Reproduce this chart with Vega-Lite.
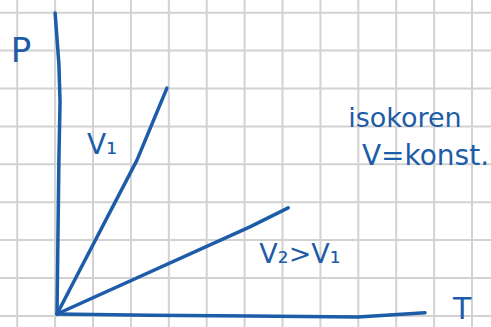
{
  "$schema": "https://vega.github.io/schema/vega-lite/v6.json",
  "width": 491,
  "height": 327,
  "autosize": "none",
  "padding": 0,
  "background": "#ffffff",
  "config": {
    "view": {"stroke": null},
    "text": {"font": "DejaVu Sans", "color": "#1d5ca8"}
  },
  "datasets": {
    "gridT": [
      {"T": -1.05}, {"T": -0.05}, {"T": 0.95}, {"T": 1.95}, {"T": 2.95}, {"T": 3.95}, {"T": 4.95},
      {"T": 5.95}, {"T": 6.95}, {"T": 7.95}, {"T": 8.95}, {"T": 9.95}, {"T": 10.95}
    ],
    "gridP": [
      {"p": -0.05}, {"p": 0.95}, {"p": 1.95}, {"p": 2.95}, {"p": 3.95}, {"p": 4.95},
      {"p": 5.95}, {"p": 6.95}, {"p": 7.95}
    ]
  },
  "encoding": {
    "x": {"field": "T", "type": "quantitative", "scale": {"domain": [-1.504, 11.451], "nice": false, "zero": false}, "axis": null},
    "y": {"field": "p", "type": "quantitative", "scale": {"domain": [-0.343, 8.285], "nice": false, "zero": false}, "axis": null}
  },
  "layer": [
    {
      "data": {"name": "gridT"},
      "mark": {"type": "rule", "color": "#d2d2d2", "strokeWidth": 2},
      "encoding": {"y": null}
    },
    {
      "data": {"name": "gridP"},
      "mark": {"type": "rule", "color": "#d2d2d2", "strokeWidth": 2},
      "encoding": {"x": null}
    },
    {
      "data": {
        "values": [
          {"curve": "p-axis", "i": 0, "T": 0, "p": 0},
          {"curve": "p-axis", "i": 1, "T": 0.05, "p": 4.07},
          {"curve": "p-axis", "i": 2, "T": 0.08, "p": 5.6},
          {"curve": "p-axis", "i": 3, "T": 0.05, "p": 6.6},
          {"curve": "p-axis", "i": 4, "T": -0.05, "p": 7.94},
          {"curve": "T-axis", "i": 0, "T": 0, "p": 0},
          {"curve": "T-axis", "i": 1, "T": 2.45, "p": -0.03},
          {"curve": "T-axis", "i": 2, "T": 5.09, "p": -0.05},
          {"curve": "T-axis", "i": 3, "T": 7.94, "p": -0.08},
          {"curve": "T-axis", "i": 4, "T": 9.71, "p": 0.03},
          {"curve": "V1", "i": 0, "T": 0, "p": 0},
          {"curve": "V1", "i": 1, "T": 2.11, "p": 4.06},
          {"curve": "V1", "i": 2, "T": 2.9, "p": 5.96},
          {"curve": "V2", "i": 0, "T": 0, "p": 0},
          {"curve": "V2", "i": 1, "T": 5.09, "p": 2.3},
          {"curve": "V2", "i": 2, "T": 6.1, "p": 2.8}
        ]
      },
      "mark": {"type": "line", "color": "#1d5ca8", "strokeWidth": 3.5, "strokeCap": "round", "strokeJoin": "round"},
      "encoding": {
        "detail": {"field": "curve"},
        "order": {"field": "i"}
      }
    },
    {
      "data": {"values": [{"T": -0.95, "p": 6.91, "label": "P"}]},
      "mark": {"type": "text", "fontSize": 34, "align": "center", "baseline": "middle"},
      "encoding": {"text": {"field": "label"}}
    },
    {
      "data": {"values": [{"T": 1.19, "p": 4.43, "label": "V₁"}]},
      "mark": {"type": "text", "fontSize": 28, "align": "center", "baseline": "middle"},
      "encoding": {"text": {"field": "label"}}
    },
    {
      "data": {"values": [{"T": 9.18, "p": 4.93, "label": "isokoren"}]},
      "mark": {"type": "text", "fontSize": 27, "align": "center", "baseline": "alphabetic"},
      "encoding": {"text": {"field": "label"}}
    },
    {
      "data": {"values": [{"T": 11.4, "p": 3.93, "label": "V=konst."}]},
      "mark": {"type": "text", "fontSize": 28, "align": "right", "baseline": "alphabetic"},
      "encoding": {"text": {"field": "label"}}
    },
    {
      "data": {"values": [{"T": 6.41, "p": 1.35, "label": "V₂>V₁"}]},
      "mark": {"type": "text", "fontSize": 27, "align": "center", "baseline": "alphabetic"},
      "encoding": {"text": {"field": "label"}}
    },
    {
      "data": {"values": [{"T": 10.69, "p": 0.5, "label": "T"}]},
      "mark": {"type": "text", "fontSize": 30, "align": "center", "baseline": "top"},
      "encoding": {"text": {"field": "label"}}
    }
  ]
}
